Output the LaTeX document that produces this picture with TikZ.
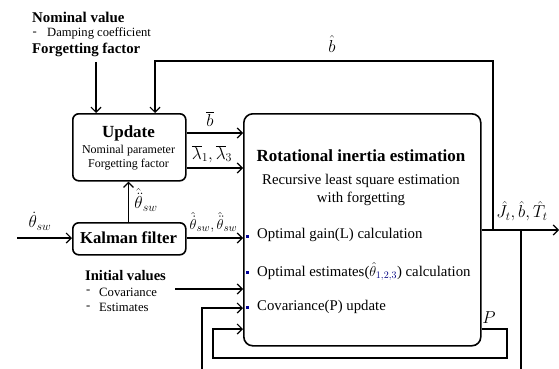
\documentclass[tikz,border=0pt]{standalone}
\usepackage{fontspec}
\setmainfont{Liberation Serif}
\usetikzlibrary{arrows.meta}
\begin{document}
\begin{tikzpicture}[x=1pt,y=-1pt,
  box/.style={draw,line width=1.6pt,rounded corners=6pt,inner sep=0pt},
  conn/.style={line width=1.2pt},
  arr/.style={conn,-{Straight Barb[length=5pt,width=10pt,line width=1.2pt]}},
  txt/.style={inner sep=0pt},
  lt/.style={txt,anchor=west},
  bul/.style={fill=blue!60!black,minimum size=3pt,inner sep=0pt},
  ml/.style={txt,font=\fontsize{17.5}{18}\selectfont}]
\useasboundingbox (0,0) rectangle (559,369);
% boxes
\node[box,minimum width=113pt,minimum height=67pt,anchor=north west] (upd) at (72,113) {};
\node[box,minimum width=113pt,minimum height=32pt,anchor=north west] (kal) at (72,222) {};
\node[box,rounded corners=9pt,minimum width=237pt,minimum height=232pt,anchor=north west] (rie) at (243,113) {};
% box texts
\node[txt,font=\fontsize{17}{17}\selectfont\bfseries] (updt) at (128.5,133) {Update};
\node[txt,font=\fontsize{12}{12}\selectfont] (updn) at (128.5,151) {Nominal parameter};
\node[txt,font=\fontsize{12}{12}\selectfont] (updf) at (128.5,164.5) {Forgetting factor};
\node[txt,font=\fontsize{16.7}{17}\selectfont\bfseries] (kalt) at (128.5,238) {Kalman filter};
\node[txt,font=\fontsize{17}{17}\selectfont\bfseries] (riet) at (361,156) {Rotational inertia estimation};
\node[txt,font=\fontsize{14.8}{15}\selectfont] (rie1) at (361,181) {Recursive least square estimation};
\node[txt,font=\fontsize{14.8}{15}\selectfont] (rie2) at (361,198.5) {with forgetting};
\node[bul] (b1) at (247.5,236) {};
\node[bul] (b2) at (247.5,272) {};
\node[bul] (b3) at (247.5,307) {};
\node[lt,font=\fontsize{14.8}{15}\selectfont] (o1) at (257,235) {Optimal gain(L) calculation};
\node[lt,font=\fontsize{14.8}{15}\selectfont] (o2) at (257,271.5) {Optimal estimates($\hat{\theta}_{\textcolor{blue!50!black}{1,2,3}}$) calculation};
\node[lt,font=\fontsize{14.8}{15}\selectfont] (o3) at (257,307) {Covariance(P) update};
% left texts
\node[lt,font=\fontsize{14.9}{15}\selectfont\bfseries] (nv) at (32,17) {Nominal value};
\node[lt,font=\fontsize{12.6}{13}\selectfont] (nvd) at (32.5,33.5) {-};
\node[lt,font=\fontsize{12.6}{13}\selectfont] (nvdc) at (47,33.5) {Damping coefficient};
\node[lt,font=\fontsize{14.8}{15}\selectfont\bfseries] (ff) at (32,50) {Forgetting factor};
\node[lt,font=\fontsize{14.6}{15}\selectfont\bfseries] (iv) at (85,275.5) {Initial values};
\node[lt,font=\fontsize{12.7}{13}\selectfont] (ivd1) at (86,292) {-};
\node[lt,font=\fontsize{12.7}{13}\selectfont] (ivc) at (99,292) {Covariance};
\node[lt,font=\fontsize{12.7}{13}\selectfont] (ivd2) at (86,307.5) {-};
\node[lt,font=\fontsize{12.7}{13}\selectfont] (ive) at (99,307.5) {Estimates};
% math labels
\node[ml] (lb) at (210,119) {$\overline{b}$};
\node[ml] (llam) at (212,154) {$\overline{\lambda}_1,\overline{\lambda}_3$};
\node[ml] (lth2) at (146,200) {$\hat{\ddot{\theta}}_{sw}$};
\node[ml] (lth) at (40,221) {$\dot{\theta}_{sw}$};
\node[ml,font=\fontsize{15.5}{16}\selectfont] (lth12) at (213.5,222) {$\hat{\dot{\theta}}_{sw},\hat{\ddot{\theta}}_{sw}$};
\node[ml] (lbh) at (332,44) {$\hat{b}$};
\node[ml] (lout) at (522,211) {$\hat{J}_t,\hat{b},\hat{T}_t$};
\node[ml] (lp) at (489,318) {$P$};
% coordinates
\coordinate (in) at (17,238);
\coordinate (ffs) at (96,62);
\coordinate (j1) at (493,230);
\coordinate (j2) at (521,230);
\coordinate (oute) at (559,230);
\coordinate (bot1) at (521,369);
\coordinate (bot2) at (202,369);
\coordinate (ivs) at (175,289);
% connectors
\draw[arr] (in) -- (kal.west|-in);
\draw[arr] (kal.east|-in) -- (rie.west|-in);
\draw[arr] (kal.north-|128.5,0) -- (upd.south-|128.5,0);
\draw[arr] (upd.east|-0,133) -- (rie.west|-0,133);
\draw[arr] (upd.east|-0,168) -- (rie.west|-0,168);
\draw[arr] (ffs) -- (upd.north-|ffs);
\draw[arr] (rie.east|-j1) -- (oute);
\draw[arr] (j1) |- (155,61) -- (upd.north-|155,0);
\draw[conn] (j2) -- (bot1);
\draw[arr] (bot2) |- (rie.west|-0,308);
\draw[arr] (ivs) -- (rie.west|-ivs);
\draw[arr] (rie.east|-0,329) -| (507,358) -| (213,329) -- (rie.west|-0,329);
\end{tikzpicture}
\end{document}
